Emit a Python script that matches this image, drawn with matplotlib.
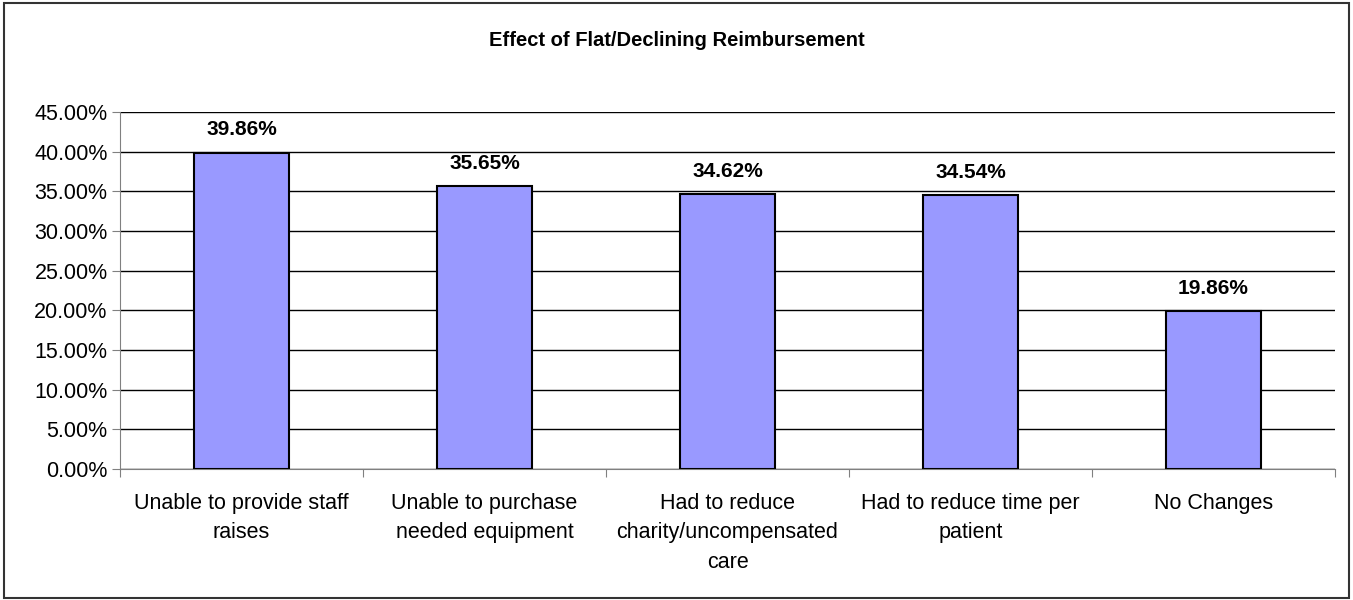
import matplotlib.pyplot as plt
from matplotlib.patches import Rectangle
from matplotlib.ticker import FuncFormatter

plt.rcParams['font.family'] = ['Liberation Sans', 'DejaVu Sans']

categories = ["Unable to provide staff\nraises",
              "Unable to purchase\nneeded equipment",
              "Had to reduce\ncharity/uncompensated\ncare",
              "Had to reduce time per\npatient",
              "No Changes"]
values = [39.86, 35.65, 34.62, 34.54, 19.86]
yticks = [0, 5, 10, 15, 20, 25, 30, 35, 40, 45]

fig = plt.figure(figsize=(13.53, 6), dpi=100)
ax = fig.add_axes([120/1353, 1 - 469/600, (1335 - 120)/1353, (469 - 112)/600])

x = list(range(len(categories)))
bars = ax.bar(x, values, width=0.395, color='#9999FF', edgecolor='black', linewidth=1.5, zorder=3)

for xi, v in zip(x, values):
    ax.text(xi, v + 2.2, f"{v:.2f}%", ha='center', va='baseline', fontsize=15, fontweight='bold')

ax.set_xlim(-0.5, len(categories) - 0.5)
ax.set_ylim(0, 45)
ax.set_yticks(yticks)
ax.yaxis.set_major_formatter(FuncFormatter(lambda v, p: f"{v:.2f}%"))
ax.grid(axis='y', color='black', linewidth=1, zorder=0)

# category boundaries get the ticks, names sit centred under the bars
ax.set_xticks([i + 0.5 for i in range(-1, len(categories))])
ax.set_xticklabels([])
ax.set_xticks(x, minor=True)
ax.set_xticklabels(categories, minor=True, fontsize=15.5, linespacing=1.55)
ax.tick_params(axis='x', which='minor', length=0, pad=17)
ax.tick_params(axis='x', which='major', length=6, color='gray', direction='out')
ax.tick_params(axis='y', length=6, color='gray', labelsize=15.5, pad=3)

ax.spines['top'].set_visible(False)
ax.spines['right'].set_visible(False)
ax.spines['left'].set_color('gray')
ax.spines['bottom'].set_color('gray')

fig.text(0.5, 1 - 41/600, "Effect of Flat/Declining Reimbursement", ha='center', va='center',
         fontsize=14.5, fontweight='bold')

fig.patches.append(Rectangle((4/1353, 2/600), 1345/1353, 595/600, transform=fig.transFigure,
                             fill=False, edgecolor='#333333', linewidth=1.5))

fig.savefig("out.png", dpi=100)
